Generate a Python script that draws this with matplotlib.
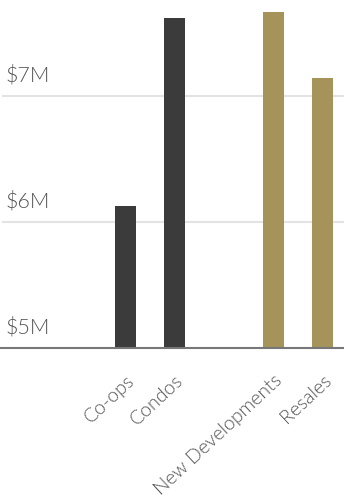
import matplotlib
matplotlib.use("Agg")
import matplotlib.pyplot as plt

categories = ["Co-ops", "Condos", "New Developments", "Resales"]
values = [6.13, 7.62, 7.67, 7.14]  # $M
positions = [0, 1, 3, 4]
colors = ["#3b3b3b", "#3b3b3b", "#a5935a", "#a5935a"]
yticks = [5, 6, 7]
ytick_labels = ["$5M", "$6M", "$7M"]

plt.rcParams['font.family'] = ['Lato', 'DejaVu Sans']

fig = plt.figure(figsize=(3.44, 5.0), dpi=100)
ax = fig.add_axes([0.0, 0.304, 1.0, 0.696])
ax.set_xlim(-2.544, 4.43)
ax.set_ylim(5, 7.762)

for y in yticks[1:]:
    ax.axhline(y, xmin=0.01, color="#e3e3e3", lw=1.5, zorder=0)

ax.bar(positions, [v - 5 for v in values], bottom=5, width=0.43, color=colors, zorder=2)

for y, lab in zip(yticks, ytick_labels):
    ax.text(0.015, y + 0.08, lab, transform=ax.get_yaxis_transform(),
            ha="left", va="bottom", fontsize=15.5, color="#555555", fontweight=300)

ax.set_yticks([])
ax.set_xticks(positions)
ax.set_xticklabels(categories, rotation=43, ha="right", rotation_mode="anchor",
                   fontsize=14, color="#555555", fontweight=300)
ax.tick_params(axis="x", length=0, pad=17)
for s in ["top", "right", "left"]:
    ax.spines[s].set_visible(False)
ax.spines["bottom"].set_color("#777777")
ax.spines["bottom"].set_linewidth(1.5)

fig.savefig("out.png", dpi=100)
